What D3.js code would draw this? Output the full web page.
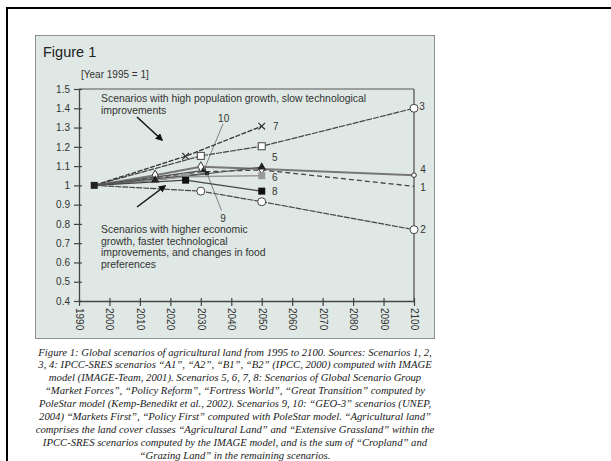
<!DOCTYPE html>
<html>
<head>
<meta charset="utf-8">
<script src="https://cdnjs.cloudflare.com/ajax/libs/d3/7.8.5/d3.min.js"></script>
<style>
body { margin: 0; background: #fff; }
text { font-family: "Liberation Sans", Arial, sans-serif; fill: #333; }
.caption { font-family: "Liberation Serif", "DejaVu Serif", serif; font-style: italic; fill: #1a1a1a; }
</style>
</head>
<body>
<svg id="chart" width="611" height="461"></svg>
<script>
// Tick labels
var yTicks = [0.4, 0.5, 0.6, 0.7, 0.8, 0.9, 1, 1.1, 1.2, 1.3, 1.4, 1.5];
var xTicks = [1990, 2000, 2010, 2020, 2030, 2040, 2050, 2060, 2070, 2080, 2090, 2100];

// Scenario data (Year 1995 = 1)
var years1 = [1995, 2030, 2050, 2100];
var values1 = [1, 1.07, 1.08, 0.995];
var years2 = [1995, 2030, 2050, 2100];
var values2 = [1, 0.97, 0.915, 0.77];
var years3 = [1995, 2030, 2050, 2100];
var values3 = [1, 1.153, 1.203, 1.40];
var years4 = [1995, 2015, 2030, 2050, 2100];
var values4 = [1, 1.053, 1.096, 1.085, 1.053];
var years5 = [1995, 2015, 2050];
var values5 = [1, 1.027, 1.095];
var years6 = [1995, 2025, 2050];
var values6 = [1, 1.045, 1.05];
var years7 = [1995, 2025, 2050];
var values7 = [1, 1.151, 1.307];
var years8 = [1995, 2025, 2050];
var values8 = [1, 1.027, 0.97];
var years9 = [1995, 2032];
var values9 = [1, 1.063];
var years10 = [1995, 2031];
var values10 = [1, 1.078];

var captionLines = [
    "Figure 1: Global scenarios of agricultural land from 1995 to 2100. Sources: Scenarios 1, 2,",
    "3, 4: IPCC-SRES scenarios \u201cA1\u201d, \u201cA2\u201d, \u201cB1\u201d, \u201cB2\u201d (IPCC, 2000) computed with IMAGE",
    "model (IMAGE-Team, 2001). Scenarios 5, 6, 7, 8: Scenarios of Global Scenario Group",
    "\u201cMarket Forces\u201d, \u201cPolicy Reform\u201d, \u201cFortress World\u201d, \u201cGreat Transition\u201d computed by",
    "PoleStar model (Kemp-Benedikt et al., 2002). Scenarios 9, 10: \u201cGEO-3\u201d scenarios (UNEP,",
    "2004) \u201cMarkets First\u201d, \u201cPolicy First\u201d computed with PoleStar model. \u201cAgricultural land\u201d",
    "comprises the land cover classes \u201cAgricultural Land\u201d and \u201cExtensive Grassland\u201d within the",
    "IPCC-SRES scenarios computed by the IMAGE model, and is the sum of \u201cCropland\u201d and",
    "\u201cGrazing Land\u201d in the remaining scenarios."
];

function pairs(ys, vs) { return ys.map((d, i) => ({year: d, value: vs[i]})) }

var series = [
    {name: "1", data: pairs(years1, values1), stroke: "#444", width: 1.3, dash: "5,3", marker: "none"},
    {name: "2", data: pairs(years2, values2), stroke: "#444", width: 1.2, dash: "6,1", marker: "ocircle"},
    {name: "3", data: pairs(years3, values3), stroke: "#444", width: 1.2, dash: "6,1", marker: "osquare"},
    {name: "4", data: pairs(years4, values4), stroke: "#777", width: 2, dash: null, marker: "odiamond"},
    {name: "5", data: pairs(years5, values5), stroke: "#555", width: 1.2, dash: null, marker: "triangle"},
    {name: "6", data: pairs(years6, values6), stroke: "#999", width: 1.4, dash: null, marker: "gsquare"},
    {name: "7", data: pairs(years7, values7), stroke: "#333", width: 1.3, dash: "5,1.5", marker: "cross"},
    {name: "8", data: pairs(years8, values8), stroke: "#444", width: 1.2, dash: null, marker: "bsquare"},
    {name: "9", data: pairs(years9, values9), stroke: "#555", width: 1.1, dash: null, marker: "small"},
    {name: "10", data: pairs(years10, values10), stroke: "#555", width: 1.1, dash: null, marker: "small"}
];

var svg = d3.select("#chart");

// outer frame and grey panel
svg.append("rect").attr("x", 7).attr("y", 8).attr("width", 640).attr("height", 480)
    .attr("fill", "none").attr("stroke", "#000").attr("stroke-width", 2);
svg.append("rect").attr("x", 35.5).attr("y", 35.5).attr("width", 399).attr("height", 303)
    .attr("fill", "#dfe8e4").attr("stroke", "#8c918f").attr("stroke-width", 1);

svg.append("text").attr("x", 43).attr("y", 57).style("font-size", "14.5px").style("fill", "#222").text("Figure 1");
svg.append("text").attr("x", 81).attr("y", 78).style("font-size", "10px").text("[Year 1995 = 1]");

var x = d3.scaleLinear().domain([1990, 2100]).range([79, 414]);
var y = d3.scaleLinear().domain([0.4, 1.5]).range([301, 89]);

var chartGroup = svg.append("g");

// frame top + right
chartGroup.append("line").attr("x1", x(1990)).attr("x2", x(2100)).attr("y1", y(1.5)).attr("y2", y(1.5))
    .attr("stroke", "#555").attr("stroke-width", 1);
chartGroup.append("line").attr("x1", x(2100)).attr("x2", x(2100)).attr("y1", y(1.5)).attr("y2", y(0.4))
    .attr("stroke", "#888").attr("stroke-width", 2);

var yAxis = chartGroup.append("g").attr("transform", `translate(${x(1990)},0)`)
    .call(d3.axisLeft(y).tickValues(yTicks).tickSize(5).tickSizeOuter(0)
        .tickFormat(d => d === 1 ? "1" : d3.format(".1f")(d)));
var xAxis = chartGroup.append("g").attr("transform", `translate(0,${y(0.4)})`)
    .call(d3.axisBottom(x).tickValues(xTicks).tickSize(5).tickSizeOuter(0).tickFormat(d3.format("d")));

[yAxis, xAxis].forEach(a => {
    a.select(".domain").attr("stroke", "#444").attr("stroke-width", 1.3);
    a.selectAll(".tick line").attr("stroke", "#444").attr("stroke-width", 1.2);
    a.selectAll("text").style("font-size", "10px").style("fill", "#333")
        .style("font-family", "\"Liberation Sans\", Arial, sans-serif");
});
yAxis.selectAll(".tick line").attr("x1", 3);
yAxis.selectAll("text").attr("x", -9);
xAxis.selectAll(".tick line").attr("y1", -3);
xAxis.selectAll("text")
    .attr("transform", "rotate(90)")
    .attr("x", 7).attr("y", 0).attr("dy", "0.35em")
    .style("text-anchor", "start");

// lines
var line = d3.line().x(d => x(d.year)).y(d => y(d.value));
chartGroup.selectAll(".series")
    .data(series)
    .enter()
    .append("path")
    .classed("series", true)
    .attr("d", d => line(d.data))
    .attr("fill", "none")
    .attr("stroke", d => d.stroke)
    .attr("stroke-width", d => d.width)
    .attr("stroke-dasharray", d => d.dash);

// markers (skip the common 1995 start point)
series.forEach(s => {
    var pts = s.data.slice(1);
    pts.forEach((p, i) => {
        var cx = x(p.year), cy = y(p.value);
        var last = i === pts.length - 1;
        var m = s.marker;
        if (s.name === "3" && last) m = "ocircle";
        if (s.name === "4" && last) m = "ocircle_s";
        if (m === "ocircle") {
            chartGroup.append("circle").attr("cx", cx).attr("cy", cy).attr("r", 4)
                .attr("fill", "#fff").attr("stroke", "#444").attr("stroke-width", 1);
        } else if (m === "ocircle_s") {
            chartGroup.append("circle").attr("cx", cx).attr("cy", cy).attr("r", 2.3)
                .attr("fill", "#fff").attr("stroke", "#333").attr("stroke-width", 1);
        } else if (m === "osquare") {
            chartGroup.append("rect").attr("x", cx - 3.5).attr("y", cy - 3.5).attr("width", 7).attr("height", 7)
                .attr("fill", "#fff").attr("stroke", "#444").attr("stroke-width", 1);
        } else if (m === "odiamond") {
            chartGroup.append("path").attr("d", d3.symbol(d3.symbolDiamond, 30)())
                .attr("transform", `translate(${cx},${cy})`)
                .attr("fill", "#fff").attr("stroke", "#333").attr("stroke-width", 1);
        } else if (m === "triangle") {
            chartGroup.append("path").attr("d", d3.symbol(d3.symbolTriangle, 30)())
                .attr("transform", `translate(${cx},${cy})`).attr("fill", "#222");
        } else if (m === "gsquare") {
            chartGroup.append("rect").attr("x", cx - 3.5).attr("y", cy - 3.5).attr("width", 7).attr("height", 7)
                .attr("fill", "#9a9a9a");
        } else if (m === "bsquare") {
            chartGroup.append("rect").attr("x", cx - 3.5).attr("y", cy - 3.5).attr("width", 7).attr("height", 7)
                .attr("fill", "#111");
        } else if (m === "cross") {
            chartGroup.append("path").attr("d", d3.symbol(d3.symbolX, 30)())
                .attr("transform", `translate(${cx},${cy})`)
                .attr("fill", "none").attr("stroke", "#333").attr("stroke-width", 1.2);
        } else if (m === "small") {
            chartGroup.append("rect").attr("x", cx - 2).attr("y", cy - 2).attr("width", 4).attr("height", 4)
                .attr("fill", "#222");
        }
    });
});
// common start point
chartGroup.append("rect").attr("x", x(1995) - 3.5).attr("y", y(1) - 3.5).attr("width", 7).attr("height", 7)
    .attr("fill", "#222");

// series labels
var labelPos = {
    "1": [x(2100) + 9, y(0.99)], "2": [x(2100) + 9, y(0.77)], "3": [x(2100) + 8, y(1.41)],
    "4": [x(2100) + 9, y(1.08)], "5": [x(2050) + 13, y(1.145)], "6": [x(2050) + 13, y(1.043)],
    "7": [x(2050) + 14, y(1.307)], "8": [x(2050) + 13, y(0.97)], "9": [x(2037.3), y(0.83)],
    "10": [x(2037.5), y(1.345)]
};
chartGroup.selectAll(".label")
    .data(series)
    .enter()
    .append("text")
    .classed("label", true)
    .attr("x", d => labelPos[d.name][0])
    .attr("y", d => labelPos[d.name][1])
    .attr("dy", "0.35em")
    .style("text-anchor", "middle")
    .style("font-size", "10px")
    .text(d => d.name);

// leader lines for 9 and 10
chartGroup.append("line").attr("x1", x(2032)).attr("y1", y(1.063)).attr("x2", x(2036.8)).attr("y2", y(0.87))
    .attr("stroke", "#666").attr("stroke-width", 0.8);
chartGroup.append("line").attr("x1", x(2031)).attr("y1", y(1.078)).attr("x2", x(2037.3)).attr("y2", y(1.32))
    .attr("stroke", "#666").attr("stroke-width", 0.8);

// annotations
svg.append("defs").append("marker")
    .attr("id", "arrow").attr("viewBox", "0 0 10 10").attr("refX", 8).attr("refY", 5)
    .attr("markerWidth", 5).attr("markerHeight", 5).attr("orient", "auto")
    .append("path").attr("d", "M0,0 L10,5 L0,10 z").attr("fill", "#111");

var note1 = ["Scenarios with high population growth, slow technological", "improvements"];
var note2 = ["Scenarios with higher economic", "growth, faster technological",
    "improvements, and changes in food", "preferences"];
note1.forEach((t, i) => {
    chartGroup.append("text").attr("x", 101).attr("y", 102 + i * 12).style("font-size", "10.4px").text(t);
});
note2.forEach((t, i) => {
    chartGroup.append("text").attr("x", 101).attr("y", 233 + i * 11.6).style("font-size", "10.4px").text(t);
});
chartGroup.append("line").attr("x1", 137).attr("y1", 117).attr("x2", 162).attr("y2", 140)
    .attr("stroke", "#111").attr("stroke-width", 1.5).attr("marker-end", "url(#arrow)");
chartGroup.append("line").attr("x1", 137).attr("y1", 207).attr("x2", 165).attr("y2", 186)
    .attr("stroke", "#111").attr("stroke-width", 1.5).attr("marker-end", "url(#arrow)");

// caption, font size fitted to the first line width
var cap = svg.append("g");
var probe = cap.append("text").classed("caption", true).style("font-size", "10px").text(captionLines[0]);
var capSize = 10 * 394 / probe.node().getComputedTextLength();
probe.remove();
captionLines.forEach((t, i) => {
    cap.append("text").classed("caption", true)
        .attr("x", 235).attr("y", 355.5 + i * 12.9)
        .style("text-anchor", "middle")
        .style("font-size", capSize + "px")
        .text(t);
});
</script>
</body>
</html>
